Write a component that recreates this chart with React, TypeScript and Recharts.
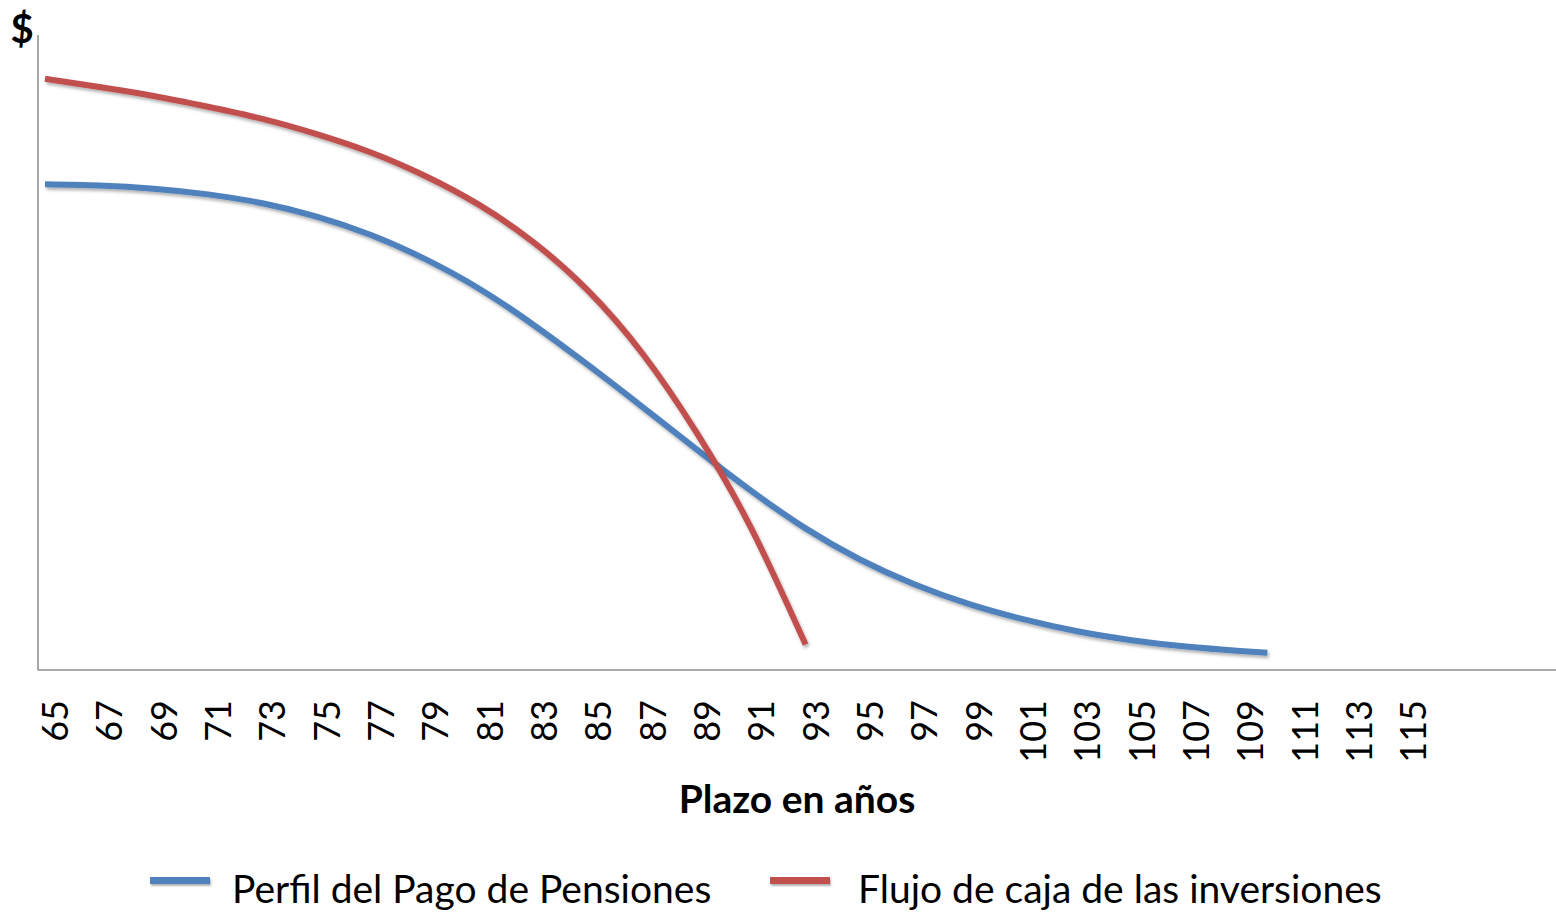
import React from 'react';
import { LineChart, Line, XAxis, YAxis, Legend, Label } from 'recharts';

// Categories (age in years)
const years: number[] = [
  65, 66, 67, 68, 69, 70, 71, 72, 73, 74, 75, 76, 77, 78, 79, 80, 81, 82, 83, 84,
  85, 86, 87, 88, 89, 90, 91, 92, 93, 94, 95, 96, 97, 98, 99, 100, 101, 102, 103, 104,
  105, 106, 107, 108, 109, 110, 111, 112, 113, 114, 115, 116, 117, 118, 119, 120,
];

// Tick labels shown on the x axis
const xTickLabels: string[] = [
  '65', '67', '69', '71', '73', '75', '77', '79', '81', '83', '85', '87', '89',
  '91', '93', '95', '97', '99', '101', '103', '105', '107', '109', '111', '113', '115',
];

// Series 1: Perfil del Pago de Pensiones
const perfilYears: number[] = [
  65, 67, 69, 71, 73, 75, 77, 79, 81, 83, 85, 87, 89, 91, 93, 95, 97, 99, 101, 103,
  105, 107, 109, 110,
];
const perfilValues: number[] = [
  76.5, 76.3, 75.8, 74.9, 73.5, 71.4, 68.5, 64.7, 60.0, 54.3, 48.0, 41.4, 34.7, 28.2,
  22.3, 17.4, 13.5, 10.4, 8.0, 6.1, 4.7, 3.7, 3.0, 2.7,
];

// Series 2: Flujo de caja de las inversiones
const flujoYears: number[] = [65, 67, 69, 71, 73, 75, 77, 79, 81, 83, 85, 87, 89, 91, 93];
const flujoValues: number[] = [
  93.1, 91.8, 90.4, 88.7, 86.8, 84.4, 81.5, 77.8, 73.2, 67.3, 59.7, 49.8, 37.3, 22.3, 4.0,
];

const seriesNames = ['Perfil del Pago de Pensiones', 'Flujo de caja de las inversiones'];
const seriesColors = ['#4F81BD', '#C0504D'];

const data = years.map((y) => {
  const pi = perfilYears.indexOf(y);
  const fi = flujoYears.indexOf(y);
  return {
    year: String(y),
    perfil: pi >= 0 ? perfilValues[pi] : null,
    flujo: fi >= 0 ? flujoValues[fi] : null,
  };
});

const FONT = 'Lato, "Open Sans", sans-serif';
const AXIS_COLOR = '#8c8c8c';

const XTick = (props: any) => {
  const { x, y, payload } = props;
  const label = String(payload.value);
  if (!xTickLabels.includes(label)) return <g />;
  return (
    <text
      transform={`translate(${x + 9},${y + 22}) rotate(-90)`}
      textAnchor="end"
      dominantBaseline="central"
      fontSize={36}
      fontFamily={FONT}
      fill="#000"
    >
      {label}
    </text>
  );
};

const renderLegend = (props: any) => {
  const payload = props.payload || [];
  const positions = [150, 770];
  const items = seriesNames.map((name) => payload.find((p: any) => p.value === name)).filter(Boolean);
  return (
    <div style={{ position: 'relative', width: 1556, height: 52, fontFamily: FONT }}>
      {items.map((entry: any, i: number) => (
        <div
          key={i}
          style={{
            position: 'absolute',
            left: positions[i],
            top: 0,
            height: 52,
            whiteSpace: 'nowrap',
          }}
        >
          <div
            style={{
              position: 'absolute',
              left: 0,
              top: 15,
              width: 60,
              height: 7,
              background: entry.color,
              boxShadow: '1px 2px 2px rgba(0,0,0,0.3)',
            }}
          />
          <span
            style={{
              position: 'absolute',
              left: i === 0 ? 82 : 88,
              top: 0,
              fontSize: 39,
              color: '#000',
              lineHeight: '52px',
            }}
          >
            {entry.value}
          </span>
        </div>
      ))}
    </div>
  );
};

export default function App() {
  return (
    <div style={{ position: 'absolute', left: 0, top: 0, width: 1556, height: 912, background: '#fff' }}>
      <LineChart
        width={1556}
        height={912}
        data={data}
        margin={{ top: 35, right: 0, left: 0, bottom: 142 }}
      >
        <defs>
          <filter id="lineShadow" x="-5%" y="-5%" width="110%" height="120%">
            <feDropShadow dx="1.5" dy="2.5" stdDeviation="1.5" floodColor="#000" floodOpacity="0.3" />
          </filter>
        </defs>
        <XAxis
          dataKey="year"
          type="category"
          scale="point"
          padding={{ left: 7, right: 17 }}
          interval={0}
          tickLine={false}
          axisLine={{ stroke: AXIS_COLOR, strokeWidth: 1.5 }}
          tick={<XTick />}
          height={100}
        >
          <Label
            content={(p: any) => {
              const vb = p.viewBox || {};
              return (
                <text
                  x={vb.x + vb.width / 2}
                  y={813}
                  textAnchor="middle"
                  fontSize={39}
                  fontWeight="bold"
                  fontFamily={FONT}
                  fill="#000"
                >
                  Plazo en años
                </text>
              );
            }}
          />
        </XAxis>
        <YAxis
          type="number"
          domain={[0, 100]}
          width={38}
          tick={false}
          tickLine={false}
          axisLine={{ stroke: AXIS_COLOR, strokeWidth: 1.5 }}
        >
          <Label
            content={() => (
              <text x={22} y={43} textAnchor="middle" fontSize={40} fontWeight="bold" fontFamily={FONT} fill="#000">
                $
              </text>
            )}
          />
        </YAxis>
        <Legend
          layout="horizontal"
          verticalAlign="middle"
          align="center"
          wrapperStyle={{ position: 'absolute', top: 862, left: 0, width: 1556, height: 52 }}
          content={renderLegend}
        />
        <Line
          name={seriesNames[0]}
          dataKey="perfil"
          type="natural"
          stroke={seriesColors[0]}
          strokeWidth={6}
          dot={false}
          activeDot={false}
          connectNulls
          isAnimationActive={false}
          filter="url(#lineShadow)"
        />
        <Line
          name={seriesNames[1]}
          dataKey="flujo"
          type="natural"
          stroke={seriesColors[1]}
          strokeWidth={6}
          dot={false}
          activeDot={false}
          connectNulls
          isAnimationActive={false}
          filter="url(#lineShadow)"
        />
      </LineChart>
    </div>
  );
}
